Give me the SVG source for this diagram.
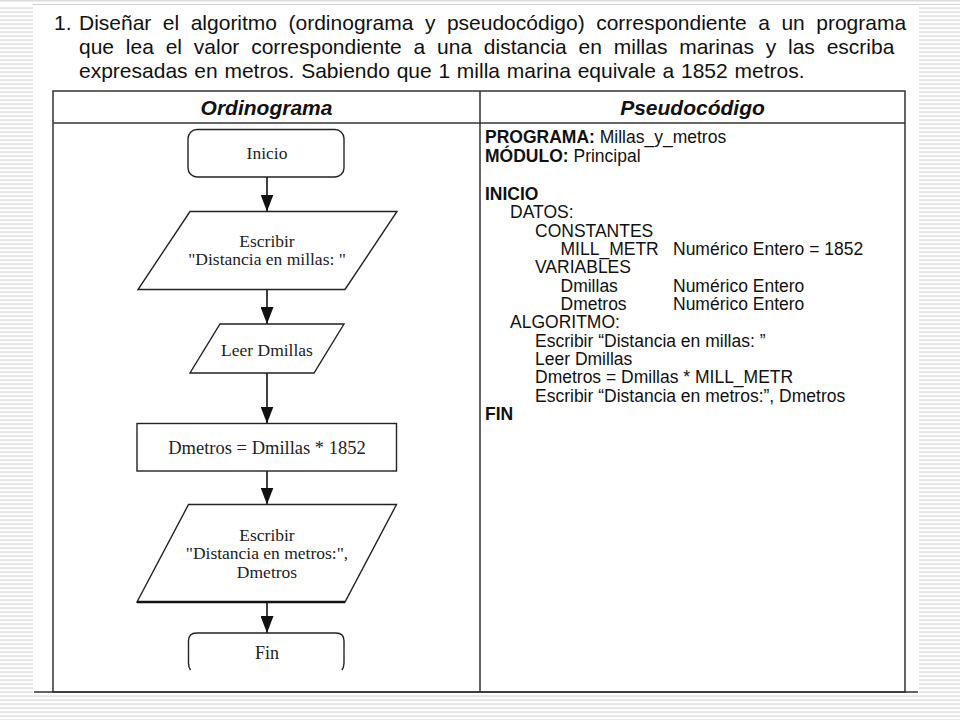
<svg xmlns="http://www.w3.org/2000/svg" width="960" height="720" viewBox="0 0 960 720">
  <defs>
    <pattern id="stripes" x="0" y="3.5" width="4" height="4" patternUnits="userSpaceOnUse">
      <rect width="4" height="4" fill="#ffffff"/>
      <rect width="4" height="1.2" fill="#d2d2d2"/>
    </pattern>
    <marker id="arrow" viewBox="0 0 17 13" refX="17" refY="6.5" markerWidth="17" markerHeight="13" markerUnits="userSpaceOnUse" orient="auto">
      <path d="M0,0 L17,6.5 L0,13 Z" fill="#111"/>
    </marker>
    <style>
      .title { font-family: "Liberation Sans", Arial, sans-serif; font-size: 21px; fill: #111; }
      .head { font-family: "Liberation Sans", Arial, sans-serif; font-size: 21px; font-weight: bold; font-style: italic; fill: #111; text-anchor: middle; }
      .code { font-family: "Liberation Sans", Arial, sans-serif; font-size: 17.5px; fill: #111; }
      .b { font-weight: bold; }
      .fc { font-family: "Liberation Serif", "Times New Roman", serif; font-size: 17.5px; fill: #222; text-anchor: middle; }
      .shape { fill: #fff; stroke: #222; stroke-width: 1.4; }
      .grid { fill: none; stroke: #333; stroke-width: 1.5; }
      .conn { fill: none; stroke: #111; stroke-width: 1.6; marker-end: url(#arrow); }
    </style>
  </defs>

  <!-- background -->
  <rect x="0" y="0" width="960" height="720" fill="#ffffff"/>
  <rect x="0" y="0" width="960" height="1.5" fill="#dcdcdc"/>
  <line x1="33" y1="4.5" x2="960" y2="4.5" stroke="#cfcfcf" stroke-width="1"/>
  <rect x="0" y="6" width="33" height="714" fill="url(#stripes)"/>
  <rect x="919" y="6" width="41" height="714" fill="url(#stripes)"/>
  <rect x="0" y="694" width="960" height="26" fill="url(#stripes)"/>

  <!-- title -->
  <g id="title">
    <text class="title" x="54" y="30">1.</text>
    <text class="title" x="79" y="30" word-spacing="5.65">Diseñar el algoritmo (ordinograma y pseudocódigo) correspondiente a un programa</text>
    <text class="title" x="79" y="54" word-spacing="5.97">que lea el valor correspondiente a una distancia en millas marinas y las escriba</text>
    <text class="title" x="79" y="78" word-spacing="0.9">expresadas en metros. Sabiendo que 1 milla marina equivale a 1852 metros.</text>
  </g>

  <!-- table -->
  <g id="table">
    <rect class="grid" x="53" y="91" width="852" height="601"/>
    <line class="grid" x1="53" y1="123" x2="905" y2="123"/>
    <line class="grid" x1="480" y1="91" x2="480" y2="692"/>
    <line class="grid" x1="34" y1="692" x2="918" y2="692"/>
    <text class="head" x="266.5" y="115">Ordinograma</text>
    <text class="head" x="692.5" y="115">Pseudocódigo</text>
  </g>

  <!-- pseudocode -->
  <g id="pseudocode">
    <text class="code" x="485" y="143"><tspan class="b">PROGRAMA:</tspan> Millas_y_metros</text>
    <text class="code" x="485" y="161.5"><tspan class="b">MÓDULO:</tspan> Principal</text>
    <text class="code b" x="485" y="200">INICIO</text>
    <text class="code" x="510" y="218.3">DATOS:</text>
    <text class="code" x="535" y="236.7">CONSTANTES</text>
    <text class="code" x="560.5" y="255">MILL_METR</text>
    <text class="code" x="673" y="255">Numérico Entero = 1852</text>
    <text class="code" x="535" y="273.3">VARIABLES</text>
    <text class="code" x="560.5" y="291.7">Dmillas</text>
    <text class="code" x="673" y="291.7">Numérico Entero</text>
    <text class="code" x="560.5" y="310">Dmetros</text>
    <text class="code" x="673" y="310">Numérico Entero</text>
    <text class="code" x="510" y="328.3">ALGORITMO:</text>
    <text class="code" x="535" y="346.7">Escribir “Distancia en millas: ”</text>
    <text class="code" x="535" y="365">Leer Dmillas</text>
    <text class="code" x="535" y="383.3">Dmetros = Dmillas * MILL_METR</text>
    <text class="code" x="535" y="401.7">Escribir “Distancia en metros:”, Dmetros</text>
    <text class="code b" x="485" y="420">FIN</text>
  </g>

  <!-- connectors -->
  <g id="connectors">
    <line class="conn" x1="267" y1="177" x2="267" y2="211.5"/>
    <line class="conn" x1="267" y1="289.5" x2="267" y2="324"/>
    <line class="conn" x1="267" y1="373" x2="267" y2="423.5"/>
    <line class="conn" x1="267" y1="471" x2="267" y2="504.5"/>
    <line class="conn" x1="267" y1="602" x2="267" y2="633"/>
  </g>

  <!-- flowchart nodes -->
  <g id="inicio">
    <rect class="shape" x="188" y="129.5" width="156" height="47.5" rx="9" ry="9"/>
    <text class="fc" x="267" y="159">Inicio</text>
  </g>

  <g id="escribir1">
    <polygon class="shape" points="190,211.5 397,211.5 345,289.5 138,289.5"/>
    <text class="fc" x="267" y="246.5">Escribir</text>
    <text class="fc" x="267" y="265">"Distancia en millas: "</text>
  </g>

  <g id="leer">
    <polygon class="shape" points="220,324 344,324 314,373 190,373"/>
    <text class="fc" x="267" y="355.5">Leer Dmillas</text>
  </g>

  <g id="proceso">
    <rect class="shape" x="137" y="423.5" width="259.5" height="47.5"/>
    <text class="fc" x="267" y="453.5" style="font-size:18.5px">Dmetros = Dmillas * 1852</text>
  </g>

  <g id="escribir2">
    <polygon class="shape" points="188.5,504.5 396.5,504.5 345,602 137,602"/>
    <line x1="137" y1="602" x2="345" y2="602" stroke="#111" stroke-width="2.4"/>
    <text class="fc" x="267" y="540.5">Escribir</text>
    <text class="fc" x="267" y="559">"Distancia en metros:",</text>
    <text class="fc" x="267" y="577.5">Dmetros</text>
  </g>

  <g id="fin">
    <path class="shape" d="M190.5,670 Q188.5,667 188.5,663 V641 Q188.5,633 196.5,633 H336 Q344,633 344,641 V663 Q344,667 342,670"/>
    <text class="fc" x="267" y="658.5" style="font-size:18px">Fin</text>
  </g>
</svg>
